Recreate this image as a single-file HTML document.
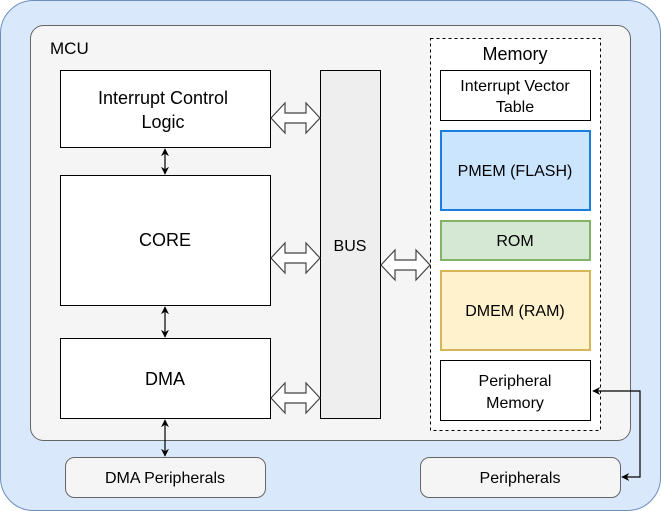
<!DOCTYPE html>
<html><head><meta charset="utf-8"><style>
html,body{margin:0;padding:0;background:#fff}
svg{display:block}
</style></head><body>
<svg width="661" height="511" viewBox="0 0 661 511" xmlns="http://www.w3.org/2000/svg" font-family="'Liberation Sans', sans-serif">
<defs>
<marker id="a" viewBox="0 0 10 10" refX="9" refY="5" markerWidth="8" markerHeight="8" orient="auto-start-reverse" markerUnits="userSpaceOnUse"><path d="M0,0 L10,5 L0,10 L3,5 z" fill="#000"/></marker>
</defs>
<rect x="0.5" y="0.5" width="660" height="510" rx="33" fill="#dae8fc" stroke="#6c8ebf"/>
<rect x="30.5" y="25.5" width="600" height="415" rx="13" fill="#f5f5f5" stroke="#666"/>
<g font-family="'Liberation Sans', sans-serif" fill="#000">
<text x="50" y="54" font-size="17">MCU</text>
</g>

<rect x="60.5" y="70.5" width="210" height="77" fill="#fff" stroke="#000"/>
<rect x="60.5" y="175.5" width="210" height="130" fill="#fff" stroke="#000"/>
<rect x="60.5" y="338.5" width="210" height="80" fill="#fff" stroke="#000"/>
<rect x="320.5" y="70.5" width="60" height="348" fill="#eeeeee" stroke="#000"/>

<rect x="430.5" y="38.5" width="170" height="392" fill="#fff" stroke="#000" stroke-dasharray="3,3"/>
<rect x="440.5" y="70.5" width="150" height="50" fill="#fff" stroke="#000"/>
<rect x="441" y="131" width="149" height="79" fill="#cce5ff" stroke="#1a7de0" stroke-width="2"/>
<rect x="441" y="221" width="149" height="39" fill="#d5e8d4" stroke="#82b366" stroke-width="2"/>
<rect x="441" y="271" width="149" height="79" fill="#fff2cc" stroke="#d6b656" stroke-width="2"/>
<rect x="440.5" y="360.5" width="150" height="60" fill="#fff" stroke="#000"/>

<rect x="65.5" y="457.5" width="200" height="40" rx="9" fill="#f5f5f5" stroke="#666"/>
<rect x="420.5" y="457.5" width="200" height="40" rx="9" fill="#f5f5f5" stroke="#666"/>

<g font-family="'Liberation Sans', sans-serif" fill="#000" text-anchor="middle">
<text x="163" y="104" font-size="18">Interrupt Control</text>
<text x="163" y="128" font-size="18">Logic</text>
<text x="165" y="246" font-size="18">CORE</text>
<text x="165" y="385" font-size="18">DMA</text>
<text x="350" y="251" font-size="16">BUS</text>
<text x="515" y="60" font-size="18">Memory</text>
<text x="515" y="91" font-size="16">Interrupt Vector</text>
<text x="515" y="112" font-size="16">Table</text>
<text x="515" y="176" font-size="16">PMEM (FLASH)</text>
<text x="515" y="246" font-size="16">ROM</text>
<text x="515" y="316" font-size="16">DMEM (RAM)</text>
<text x="515" y="386" font-size="16">Peripheral</text>
<text x="515" y="408" font-size="16">Memory</text>
<text x="165" y="483" font-size="16">DMA Peripherals</text>
<text x="520" y="483" font-size="16">Peripherals</text>
</g>

<g stroke="#000" stroke-width="1.2" fill="none">
<line x1="165" y1="149" x2="165" y2="174" marker-start="url(#a)" marker-end="url(#a)"/>
<line x1="165" y1="307" x2="165" y2="337" marker-start="url(#a)" marker-end="url(#a)"/>
<line x1="165" y1="420" x2="165" y2="456" marker-start="url(#a)" marker-end="url(#a)"/>
<polyline points="593,391 640,391 640,477 622,477" marker-start="url(#a)" marker-end="url(#a)"/>
</g>

<g fill="#fff" stroke="#444" stroke-width="1.2">
<path d="M271,118 L285,103 L285,113 L306,113 L306,103 L320,118 L306,133 L306,123 L285,123 L285,133 Z"/>
<path d="M271,258 L285,243 L285,253 L306,253 L306,243 L320,258 L306,273 L306,263 L285,263 L285,273 Z"/>
<path d="M271,398 L285,383 L285,393 L306,393 L306,383 L320,398 L306,413 L306,403 L285,403 L285,413 Z"/>
<path d="M381,265 L395,250 L395,260 L416,260 L416,250 L430,265 L416,280 L416,270 L395,270 L395,280 Z"/>
</g>
</svg>
</body></html>
